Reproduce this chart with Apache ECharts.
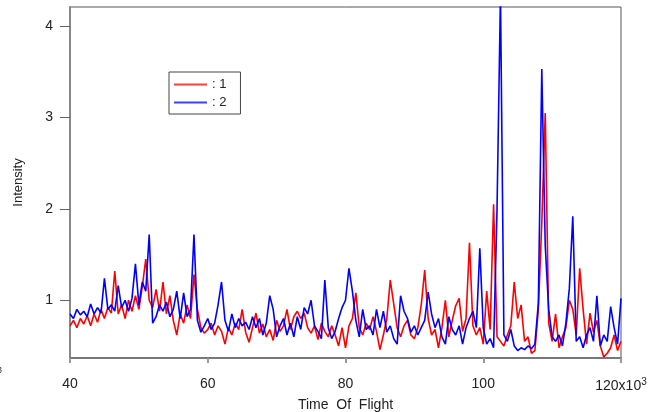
<!DOCTYPE html>
<html>
<head>
<meta charset="utf-8">
<script src="https://cdn.jsdelivr.net/npm/echarts@6/dist/echarts.min.js"></script>
<style>
  html, body { margin: 0; padding: 0; background: #fff; }
  #chart { width: 662px; height: 412px; }
</style>
</head>
<body>
<div id="chart"></div>
<script>
// time of flight (x10^3), one sample every 0.5
var tofStart = 40;
var tofStep = 0.5;

var intensity1 = [
  0.72, 0.78, 0.70, 0.80, 0.74, 0.83, 0.72, 0.85, 0.76, 0.90,
  0.80, 0.92, 0.86, 1.32, 0.85, 0.95, 0.80, 1.00, 0.88, 1.05,
  0.90, 1.15, 1.45, 1.00, 0.92, 1.12, 0.88, 1.20, 0.85, 1.05,
  0.78, 0.62, 0.85, 0.75, 0.95, 0.80, 1.28, 0.90, 0.70, 0.64,
  0.68, 0.75, 0.62, 0.72, 0.66, 0.52, 0.70, 0.62, 0.75, 0.68,
  0.90, 0.65, 0.54, 0.70, 0.86, 0.64, 0.74, 0.60, 0.68, 0.56,
  0.78, 0.66, 0.72, 0.90, 0.68, 0.82, 0.88, 0.80, 0.86, 0.70,
  0.64, 0.72, 0.57, 0.75, 0.66, 0.60, 0.72, 0.62, 0.50, 0.70,
  0.48, 0.72, 0.80, 1.08, 0.70, 0.62, 0.75, 0.68, 0.82, 0.66,
  0.46, 0.62, 0.80, 1.22, 0.96, 0.70, 0.60, 0.72, 0.78, 0.62,
  0.58, 0.70, 0.95, 1.33, 0.80, 0.62, 0.68, 0.48, 0.70, 1.00,
  0.60, 0.78, 0.94, 1.02, 0.66, 0.80, 1.63, 0.72, 0.62, 0.70,
  0.52, 1.10, 0.68, 2.05, 0.60, 0.55, 0.50, 0.62, 0.72, 1.20,
  0.80, 0.95, 0.55, 0.60, 0.42, 0.45, 0.90, 1.85, 3.05, 0.75,
  0.55, 0.85, 0.48, 0.60, 0.70, 1.00, 0.90, 0.62, 1.35, 0.90,
  0.52, 0.86, 0.65, 0.78, 0.50, 0.38, 0.42, 0.48, 0.62, 0.45,
  0.55
];

var intensity2 = [
  0.85, 0.80, 0.90, 0.84, 0.88, 0.82, 0.96, 0.85, 0.92, 0.86,
  1.24, 0.90, 0.95, 0.88, 1.16, 0.92, 1.00, 0.88, 1.02, 1.40,
  0.95, 1.20, 1.10, 1.72, 0.75, 0.82, 0.95, 0.88, 0.98, 0.82,
  0.90, 1.10, 0.80, 1.08, 0.82, 0.90, 1.72, 0.78, 0.65, 0.72,
  0.80, 0.68, 0.75, 0.95, 1.20, 0.78, 0.66, 0.85, 0.70, 0.80,
  0.72, 0.76, 0.68, 0.82, 0.70, 0.80, 0.62, 0.75, 1.05, 0.90,
  0.60, 0.72, 0.80, 0.62, 0.75, 0.60, 0.82, 0.68, 0.92, 0.85,
  1.00, 0.72, 0.66, 0.58, 1.22, 0.70, 0.58, 0.66, 0.80, 0.92,
  1.00, 1.35, 1.10, 0.78, 0.60, 0.90, 0.68, 0.72, 0.62, 0.90,
  0.70, 0.88, 0.65, 0.72, 0.58, 0.52, 1.05, 0.88, 0.80, 0.65,
  0.72, 0.62, 0.70, 0.78, 1.09, 0.85, 0.70, 0.80, 0.60, 0.52,
  0.82, 0.68, 0.62, 0.72, 0.52, 0.70, 0.80, 0.88, 0.70, 1.57,
  0.70, 0.52, 0.58, 0.48, 1.99, 4.35, 0.62, 0.55, 0.68, 0.50,
  0.45, 0.48, 0.46, 0.50, 0.47, 0.52, 0.97, 3.53, 1.60, 0.90,
  0.60, 0.55, 0.62, 0.50, 0.75, 1.13, 1.92, 0.55, 0.60, 0.48,
  0.62, 0.70, 0.55, 1.05, 0.50, 0.62, 0.55, 0.93, 0.70, 0.52,
  1.02
];

var yTicks = [1, 2, 3, 4];

function pairs(values) {
  var out = [];
  for (var i = 0; i < values.length; i++) {
    out.push([tofStart + i * tofStep, values[i]]);
  }
  return out;
}

var chart = echarts.init(document.getElementById('chart'));

var option = {
  animation: false,
  textStyle: { fontFamily: 'Liberation Sans, Arial, sans-serif' },
  grid: {
    left: 70, right: 41, top: 7, bottom: 54,
    outerBoundsMode: 'none',
    show: true, borderColor: '#555', borderWidth: 1
  },
  legend: {
    orient: 'vertical',
    left: 169, top: 72,
    backgroundColor: '#fff',
    borderColor: '#444', borderWidth: 1,
    padding: [6, 14, 5, 5],
    itemGap: 5,
    itemWidth: 33, itemHeight: 2,
    icon: 'rect',
    formatter: ': {name}',
    textStyle: { fontSize: 13, color: '#222' },
    data: ['1', '2']
  },
  xAxis: {
    type: 'value',
    min: 40, max: 120, interval: 20,
    name: 'Time  Of  Flight',
    nameLocation: 'middle',
    nameGap: 40,
    nameTextStyle: { fontSize: 14, color: '#222' },
    axisLine: { lineStyle: { color: '#777', width: 2 } },
    axisTick: { inside: false, length: 5, lineStyle: { color: '#999', width: 2 } },
    axisLabel: {
      margin: 19, fontSize: 14, color: '#222',
      formatter: function (v) { return v === 120 ? '120x10{sup|3}' : String(v); },
      rich: { sup: { fontSize: 10, verticalAlign: 'top', padding: [0, 0, 8, 0] } }
    },
    splitLine: { show: false }
  },
  yAxis: {
    type: 'value',
    min: 0.368, max: 4.21,
    name: 'Intensity',
    nameLocation: 'middle',
    nameGap: 45,
    nameTextStyle: { fontSize: 13, color: '#222' },
    axisLine: { lineStyle: { color: '#888', width: 2 } },
    axisTick: { length: 10, customValues: yTicks, lineStyle: { color: '#666', width: 1 } },
    axisLabel: { margin: 17, fontSize: 14, color: '#222', customValues: yTicks },
    splitLine: { show: false }
  },
  graphic: [
    { type: 'text', left: -3, top: 366, style: { text: '3', fontSize: 9, fill: '#333' } }
  ],
  series: [
    {
      name: '1', type: 'line', data: pairs(intensity1),
      symbol: 'none', lineStyle: { color: '#ff0000', width: 1.6 },
      itemStyle: { color: '#ff4040' }
    },
    {
      name: '2', type: 'line', data: pairs(intensity2),
      symbol: 'none', lineStyle: { color: '#0000ff', width: 1.6 },
      itemStyle: { color: '#4040ff' }
    }
  ]
};

chart.setOption(option);
</script>
</body>
</html>
